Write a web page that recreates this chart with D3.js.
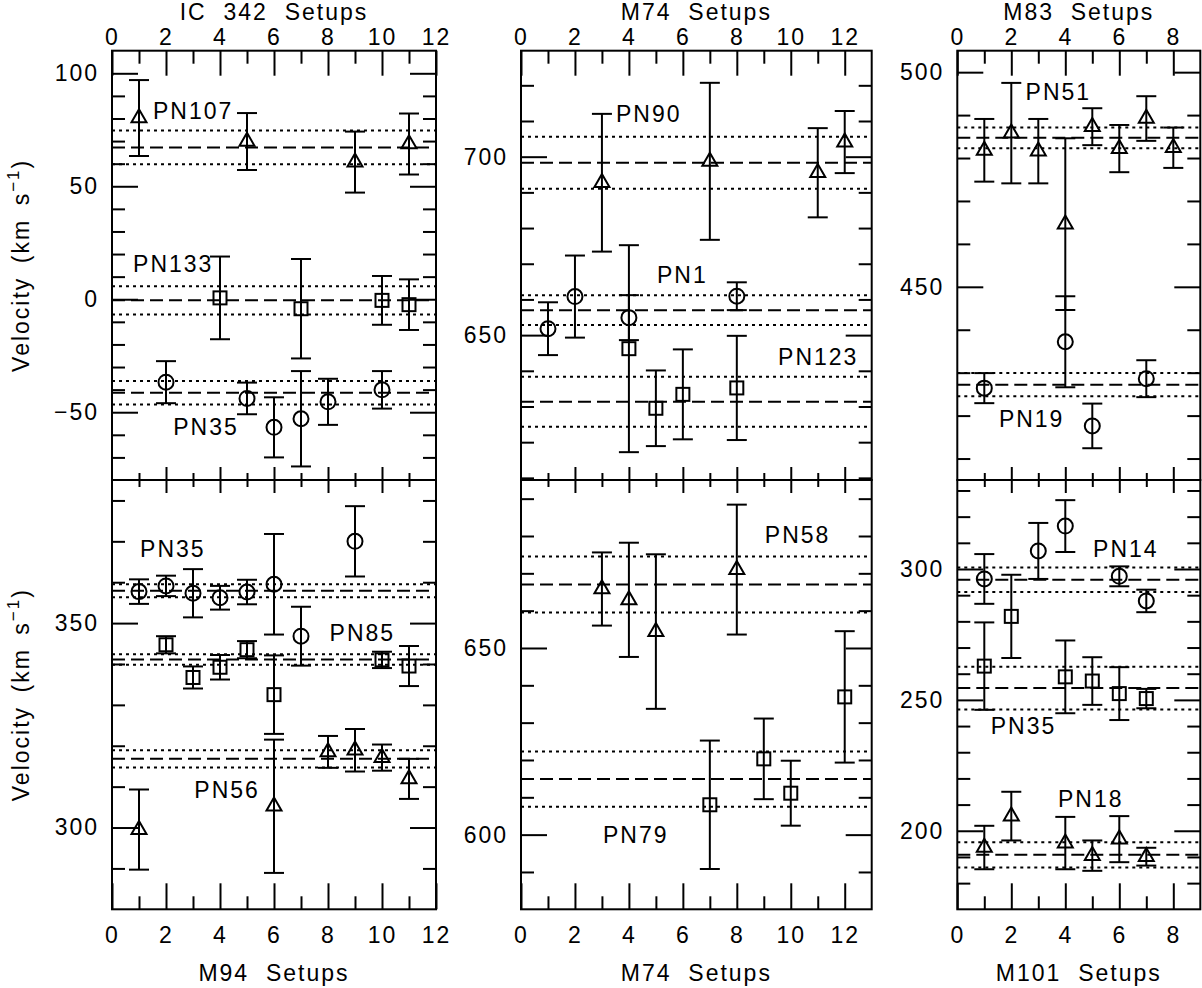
<!DOCTYPE html>
<html>
<head>
<meta charset="utf-8">
<script src="https://cdn.jsdelivr.net/npm/d3@7"></script>
<style>
  body { margin: 0; background: #fff; }
  svg { display: block; }
</style>
</head>
<body>
<svg id="chart" width="1202" height="988"></svg>
<script>
// ---- data: [setup, velocity, error] ----
const IC342_PN107 = [[1, 80.2, 16.8], [5, 69.8, 12.6], [9, 60.7, 13.5], [11, 68.7, 13.5]];
const IC342_PN133 = [[4, 0.6, 18.3], [7, -4.2, 22], [10, -0.5, 10.8], [11, -2.4, 11.2]];
const IC342_PN35 = [[2, -36.7, 9.3], [5, -43.9, 7], [6, -56.7, 13.3], [7, -52.9, 21.1], [8, -45.4, 10.2], [10, -40.1, 8.3]];
const IC342_MEANS = [[67.2, 7.5], [-0.5, 6.3], [-41.4, 5.2]];

const M94_PN35 = [[1, 357.7, 3], [2, 359.1, 2.5], [3, 357.3, 5.9], [4, 356.2, 2.9], [5, 357.6, 3], [6, 359.5, 12.3], [7, 346.8, 7.2], [9, 370, 8.6]];
const M94_PN85 = [[2, 344.7, 2.1], [3, 336.7, 2.7], [4, 339.2, 3], [5, 343.5, 2.1], [6, 332.5, 9.6], [10, 341, 2], [11, 339.5, 4.9]];
const M94_PN56 = [[1, 299.5, 9.8], [6, 305.2, 16.3], [8, 318.5, 3.9], [9, 318.9, 5.2], [10, 317.1, 3.2], [11, 311.9, 4.9]];
const M94_MEANS = [[357.9, 1.6], [341.1, 1.3], [316.8, 2.1]];

const M74A_PN90 = [[3, 692.7, 19.3], [7, 698.7, 22], [11, 695.5, 12.5], [12, 704.1, 8.7]];
const M74A_PN1 = [[1, 651.8, 7.4], [2, 660.8, 11.5], [4, 654.9, 6.3], [8, 660.9, 3.9]];
const M74A_PN123 = [[4, 646.2, 29], [5, 629.5, 10.6], [6, 633.4, 12.6], [8, 635.2, 14.6]];
const M74A_MEANS = [[698.3, 7.3], [657, 4.2], [631.3, 7]];

const M74B_PN58 = [[3, 665.8, 9.8], [4, 662.9, 15.3], [5, 654.4, 20.7], [8, 671, 17.4]];
const M74B_PN79 = [[7, 608, 17.2], [9, 620.3, 10.8], [10, 611.1, 8.7], [12, 636.9, 17.6]];
const M74B_MEANS = [[667, 7.5], [614.9, 7.4]];

const M83_PN51 = [[1, 481.8, 7.3], [2, 485.8, 11.7], [3, 481.6, 7.5], [4, 464.6, 20], [5, 487.3, 4.3], [6, 482.2, 5.5], [7, 489.2, 5.2], [8, 482.4, 4.7]];
const M83_PN19 = [[1, 426.4, 3.5], [4, 437.2, 10.6], [5, 417.6, 5.2], [7, 428.6, 4.3]];
const M83_MEANS = [[484.7, 2.4], [427.2, 2.7]];

const M101_PN14 = [[1, 296.2, 9.5], [3, 306.9, 10.7], [4, 316.4, 9.9], [6, 297.2, 3.8], [7, 287.8, 4.3]];
const M101_PN35 = [[1, 262.9, 16.7], [2, 281.9, 15.9], [4, 258.8, 13.9], [5, 257.2, 9.1], [6, 252.4, 10.1], [7, 250.5, 3.7]];
const M101_PN18 = [[1, 193.6, 8.3], [2, 205.6, 9.3], [4, 195.3, 10], [5, 190.5, 5.8], [6, 196.8, 8.8], [7, 190.1, 3.4]];
const M101_MEANS = [[295.9, 4.7], [254.5, 8.2], [190.8, 4.8]];

// PN name labels: [text, setup, velocity]
const IC342_LABELS = [["PN107", 1.52, 79.8], ["PN133", 0.78, 12.1], ["PN35", 2.27, -60.1]];
const M94_LABELS = [["PN35", 1.04, 366.2], ["PN85", 8.06, 345.7], ["PN56", 3.05, 307.2]];
const M74A_LABELS = [["PN90", 3.52, 709.6], ["PN1", 5.04, 664.5], ["PN123", 9.53, 641.6]];
const M74B_LABELS = [["PN58", 9.04, 678], ["PN79", 3.04, 597.8]];
const M83_LABELS = [["PN51", 2.53, 493.4], ["PN19", 1.54, 417.4]];
const M101_LABELS = [["PN14", 5.03, 304.5], ["PN35", 1.24, 237], ["PN18", 3.73, 209]];

const GALAXY_TITLES = ["IC  342  Setups", "M74  Setups", "M83  Setups", "M94  Setups", "M74  Setups", "M101  Setups"];

// ---- layout ----
const FONT = "'Liberation Sans', Arial, sans-serif";
const FS = 23, LS = 2;
const cols = [
  { x0: 112, x1: 436, xDom: [0, 12] },
  { x0: 521, x1: 871.7, xDom: [0, 13] },
  { x0: 957.3, x1: 1200.3, xDom: [0, 9] }
];
const rows = [{ y0: 50.7, y1: 480 }, { y0: 480, y1: 909.3 }];

const svg = d3.select("#chart");

const panels = [
  { c: 0, r: 0, yDom: [-80, 110], series: [["tri", IC342_PN107], ["sq", IC342_PN133], ["circ", IC342_PN35]], means: IC342_MEANS, labels: IC342_LABELS, title: GALAXY_TITLES[0] },
  { c: 1, r: 0, yDom: [609.4, 729.7], series: [["tri", M74A_PN90], ["circ", M74A_PN1], ["sq", M74A_PN123]], means: M74A_MEANS, labels: M74A_LABELS, title: GALAXY_TITLES[1] },
  { c: 2, r: 0, yDom: [405, 505], series: [["tri", M83_PN51], ["circ", M83_PN19]], means: M83_MEANS, labels: M83_LABELS, title: GALAXY_TITLES[2] },
  { c: 0, r: 1, yDom: [280, 385], series: [["circ", M94_PN35], ["sq", M94_PN85], ["tri", M94_PN56]], means: M94_MEANS, labels: M94_LABELS, title: GALAXY_TITLES[3] },
  { c: 1, r: 1, yDom: [580, 695], series: [["tri", M74B_PN58], ["sq", M74B_PN79]], means: M74B_MEANS, labels: M74B_LABELS, title: GALAXY_TITLES[4] },
  { c: 2, r: 1, yDom: [170, 334], series: [["circ", M101_PN14], ["sq", M101_PN35], ["tri", M101_PN18]], means: M101_MEANS, labels: M101_LABELS, title: GALAXY_TITLES[5] }
];

function styleAxis(sel) {
  sel.select(".domain").remove();
  sel.attr("font-size", null).attr("font-family", null);
  sel.selectAll("line").attr("stroke", "#000").attr("stroke-width", 2);
  sel.selectAll("text")
    .attr("font-size", FS).attr("font-family", FONT)
    .attr("letter-spacing", LS).attr("fill", "#000");
}

function inside(v, dom) { return v > dom[0] + 1e-6 && v < dom[1] - 1e-6; }

function symbol(g, kind, cx, cy) {
  if (kind === "circ") {
    g.append("circle").attr("cx", cx).attr("cy", cy).attr("r", 7.5);
  } else if (kind === "sq") {
    g.append("rect").attr("x", cx - 6.5).attr("y", cy - 6.5).attr("width", 13).attr("height", 13);
  } else {
    const h = 13, w = 7.5;
    g.append("path").attr("d",
      "M" + cx + "," + (cy - 2 * h / 3) +
      "L" + (cx + w) + "," + (cy + h / 3) +
      "L" + (cx - w) + "," + (cy + h / 3) + "Z");
  }
}

function drawPanel(p) {
  const col = cols[p.c], row = rows[p.r];
  const x = d3.scaleLinear().domain(col.xDom).range([col.x0, col.x1]);
  const y = d3.scaleLinear().domain(p.yDom).range([row.y1, row.y0]);
  const g = svg.append("g");

  // weighted mean (dashed) and its spread (dotted)
  const ml = g.append("g").attr("stroke", "#000").attr("stroke-width", 2).attr("fill", "none");
  p.means.forEach(([m, s]) => {
    ml.append("line").attr("x1", col.x0).attr("x2", col.x1).attr("y1", y(m)).attr("y2", y(m))
      .attr("stroke-dasharray", "13,6");
    [m + s, m - s].forEach(v => {
      ml.append("line").attr("x1", col.x0).attr("x2", col.x1).attr("y1", y(v)).attr("y2", y(v))
        .attr("stroke-dasharray", "3,4");
    });
  });

  // points with error bars
  const pts = g.append("g").attr("stroke", "#000").attr("stroke-width", 2).attr("fill", "none");
  p.series.forEach(([kind, data]) => {
    data.forEach(([sx, v, e]) => {
      const cx = x(sx);
      pts.append("line").attr("x1", cx).attr("x2", cx).attr("y1", y(v - e)).attr("y2", y(v + e));
      [v - e, v + e].forEach(t => {
        pts.append("line").attr("x1", cx - 10).attr("x2", cx + 10).attr("y1", y(t)).attr("y2", y(t));
      });
      symbol(pts, kind, cx, y(v));
    });
  });

  // PN labels
  p.labels.forEach(([txt, lx, ly]) => {
    g.append("text").attr("x", x(lx)).attr("y", y(ly)).text(txt)
      .attr("font-size", FS).attr("font-family", FONT).attr("letter-spacing", LS);
  });

  // frame
  g.append("rect").attr("x", col.x0).attr("y", row.y0)
    .attr("width", col.x1 - col.x0).attr("height", row.y1 - row.y0)
    .attr("fill", "none").attr("stroke", "#000").attr("stroke-width", 2);

  // y ticks
  const yMinor = d3.range(Math.ceil(p.yDom[0] / 10) * 10, p.yDom[1], 10).filter(v => inside(v, p.yDom) && v % 50 !== 0);
  const yMajor = d3.range(Math.ceil(p.yDom[0] / 50) * 50, p.yDom[1], 50).filter(v => inside(v, p.yDom));
  g.append("g").attr("transform", `translate(${col.x0},0)`)
    .call(d3.axisLeft(y).tickValues(yMinor).tickSize(-13).tickFormat(""))
    .call(styleAxis);
  g.append("g").attr("transform", `translate(${col.x0},0)`)
    .call(d3.axisLeft(y).tickValues(yMajor).tickSize(-26).tickPadding(13))
    .call(styleAxis);
  g.append("g").attr("transform", `translate(${col.x1},0)`)
    .call(d3.axisRight(y).tickValues(yMinor).tickSize(-13).tickFormat(""))
    .call(styleAxis);
  g.append("g").attr("transform", `translate(${col.x1},0)`)
    .call(d3.axisRight(y).tickValues(yMajor).tickSize(-26).tickFormat(""))
    .call(styleAxis);

  // x ticks
  const xMinor = d3.range(1, col.xDom[1], 2).filter(v => inside(v, col.xDom));
  const xMajor = d3.range(0, col.xDom[1] + 0.01, 2);
  const xMajorIn = xMajor.filter(v => inside(v, col.xDom));
  if (p.r === 0) {
    g.append("g").attr("transform", `translate(0,${row.y0})`)
      .call(d3.axisTop(x).tickValues(xMinor).tickSize(-13).tickFormat(""))
      .call(styleAxis);
    g.append("g").attr("transform", `translate(0,${row.y0})`)
      .call(d3.axisTop(x).tickValues(xMajor).tickSize(-25).tickPadding(6))
      .call(styleAxis);
    g.append("g").attr("transform", `translate(0,${row.y1})`)
      .call(d3.axisBottom(x).tickValues(xMinor).tickSize(-7).tickFormat(""))
      .call(styleAxis);
    g.append("g").attr("transform", `translate(0,${row.y1})`)
      .call(d3.axisBottom(x).tickValues(xMajorIn).tickSize(-13).tickFormat(""))
      .call(styleAxis);
    g.append("text").attr("x", (col.x0 + col.x1) / 2).attr("y", 20)
      .attr("text-anchor", "middle").style("white-space", "pre").text(p.title)
      .attr("font-size", FS).attr("font-family", FONT).attr("letter-spacing", LS);
  } else {
    g.append("g").attr("transform", `translate(0,${row.y0})`)
      .call(d3.axisTop(x).tickValues(xMinor).tickSize(-7).tickFormat(""))
      .call(styleAxis);
    g.append("g").attr("transform", `translate(0,${row.y0})`)
      .call(d3.axisTop(x).tickValues(xMajorIn).tickSize(-13).tickFormat(""))
      .call(styleAxis);
    g.append("g").attr("transform", `translate(0,${row.y1})`)
      .call(d3.axisBottom(x).tickValues(xMinor).tickSize(-13).tickFormat(""))
      .call(styleAxis);
    g.append("g").attr("transform", `translate(0,${row.y1})`)
      .call(d3.axisBottom(x).tickValues(xMajor).tickSize(-26).tickPadding(17))
      .call(styleAxis);
    g.append("text").attr("x", (col.x0 + col.x1) / 2).attr("y", 981)
      .attr("text-anchor", "middle").style("white-space", "pre").text(p.title)
      .attr("font-size", FS).attr("font-family", FONT).attr("letter-spacing", LS);
  }

  // y axis title on the left column
  if (p.c === 0) {
    const t = g.append("text")
      .attr("transform", `translate(29,${(row.y0 + row.y1) / 2}) rotate(-90)`)
      .attr("text-anchor", "middle").style("white-space", "pre")
      .attr("font-size", FS).attr("font-family", FONT).attr("letter-spacing", LS);
    t.append("tspan").text("Velocity\u2002(km\u2002s");
    t.append("tspan").attr("font-size", 17).attr("dy", -10).text("\u22121");
    t.append("tspan").attr("dy", 10).text(")");
  }
}

panels.forEach(drawPanel);
</script>
</body>
</html>
